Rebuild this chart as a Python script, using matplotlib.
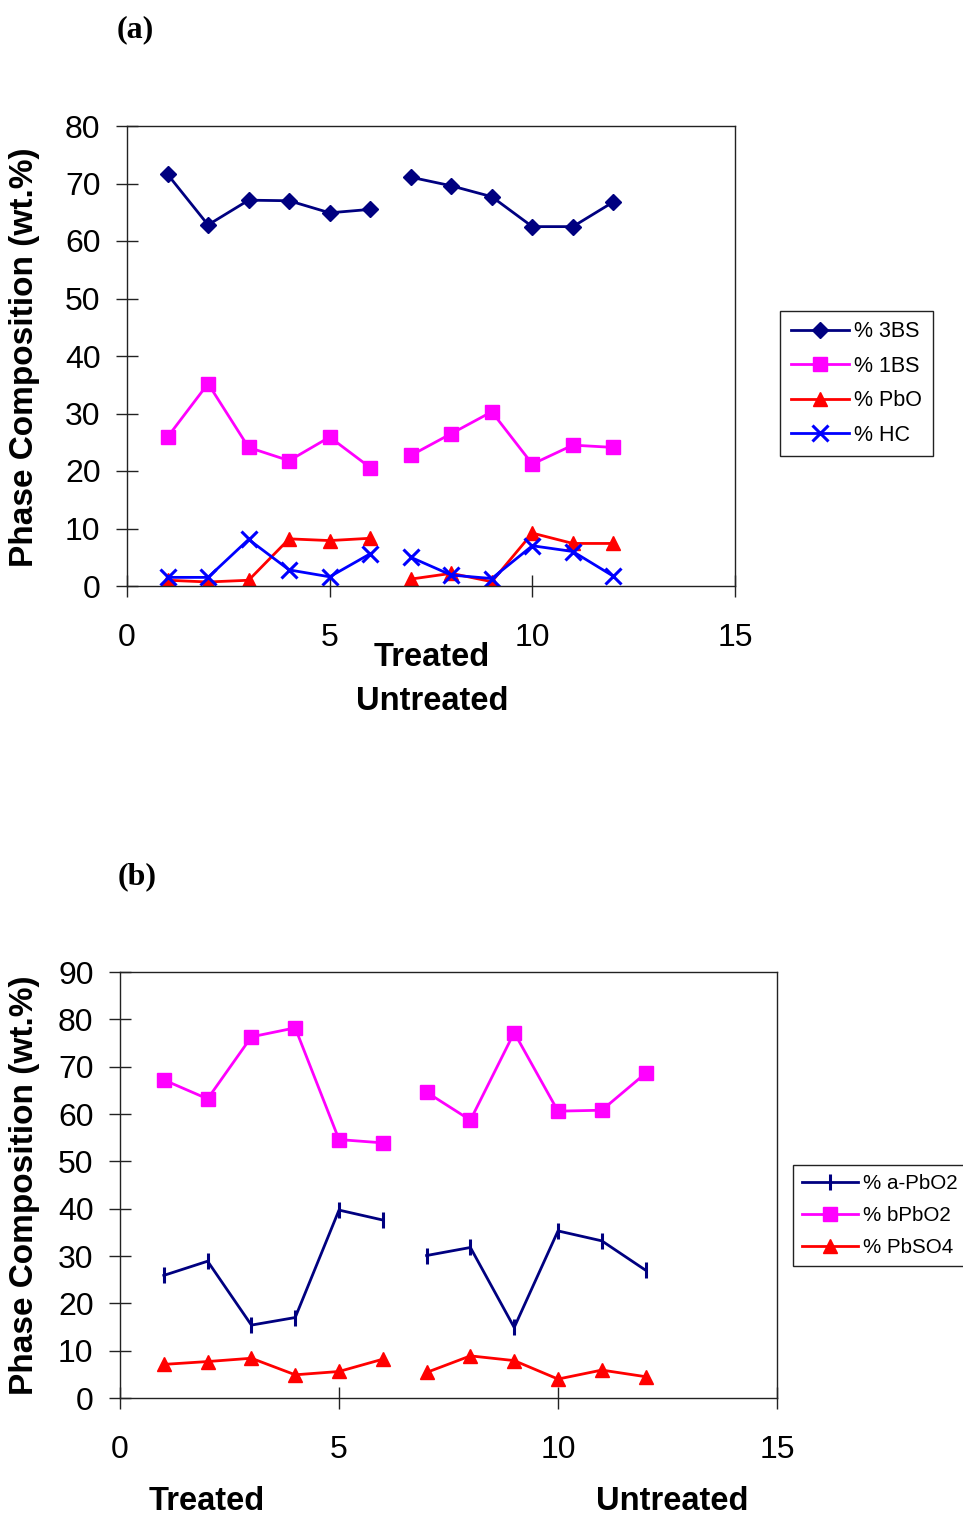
import matplotlib
matplotlib.use("Agg")
import matplotlib.pyplot as plt
import numpy as np

plt.rcParams['font.family'] = ['Liberation Sans', 'DejaVu Sans']

# ---- data (a) ----
samples = [1, 2, 3, 4, 5, 6, 7, 8, 9, 10, 11, 12]
bs3 = [71.6, 62.8, 67.1, 67.0, 64.9, 65.5, 71.1, 69.6, 67.7, 62.5, 62.5, 66.8]
bs1 = [25.9, 35.2, 24.1, 21.8, 25.9, 20.6, 22.7, 26.5, 30.3, 21.2, 24.5, 24.1]
pbo = [1.0, 0.7, 1.0, 8.2, 7.9, 8.3, 1.2, 2.2, 0.75, 9.2, 7.4, 7.4]
hc = [1.5, 1.5, 8.1, 2.8, 1.6, 5.6, 5.0, 1.9, 1.3, 7.0, 6.0, 1.7]

# ---- data (b) ----
a_pbo2 = [25.9, 28.9, 15.4, 17.0, 39.7, 37.6, 30.1, 31.8, 14.9, 35.3, 33.2, 27.0]
b_pbo2 = [67.2, 63.2, 76.3, 78.2, 54.6, 53.9, 64.6, 58.7, 77.2, 60.6, 60.8, 68.6]
pbso4 = [7.1, 7.7, 8.4, 4.9, 5.6, 8.2, 5.4, 8.9, 7.9, 4.0, 5.9, 4.5]

labels_a = ['% 3BS', '% 1BS', '% PbO', '% HC']
labels_b = ['% a-PbO2', '% bPbO2', '% PbSO4']
xticks = [0, 5, 10, 15]
yticks_a = [0, 10, 20, 30, 40, 50, 60, 70, 80]
yticks_b = [0, 10, 20, 30, 40, 50, 60, 70, 80, 90]

W, H = 963, 1517
fig = plt.figure(figsize=(W / 100, H / 100), dpi=100)


def fx(px):
    return px / W


def fy(py):
    return 1 - py / H


def plot_series(ax, x, y, label, **kw):
    x = np.asarray(x)
    y = np.asarray(y)
    line, = ax.plot(x[:6], y[:6], label=label, **kw)
    ax.plot(x[6:], y[6:], **kw)
    return line


def style_axes(ax, yt, ymax):
    ax.set_xlim(0, 15)
    ax.set_ylim(0, ymax)
    ax.set_xticks(xticks)
    ax.set_yticks(yt)
    for s in ax.spines.values():
        s.set_linewidth(1.0)
        s.set_color('#222222')
    ax.tick_params(axis='both', direction='inout', length=16, width=1.0,
                   color='#222222', labelsize=23)
    ax.tick_params(axis='x', pad=19)
    ax.tick_params(axis='y', pad=11)


# ---------- (a) ----------
ax1 = fig.add_axes([fx(127), fy(586), fx(735) - fx(127), (586 - 126) / H])
lw = 2.0
h1 = [
    plot_series(ax1, samples, bs3, labels_a[0], color='#000080', marker='D',
                markersize=8, lw=lw),
    plot_series(ax1, samples, bs1, labels_a[1], color='#FF00FF', marker='s',
                markersize=10, lw=lw),
    plot_series(ax1, samples, pbo, labels_a[2], color='#FF0000', marker='^',
                markersize=10, lw=lw),
    plot_series(ax1, samples, hc, labels_a[3], color='#0000FF', marker='x',
                markersize=11, markeredgewidth=2.2, lw=lw),
]
style_axes(ax1, yticks_a, 80)
leg1 = fig.legend(handles=h1, loc='center left',
                  bbox_to_anchor=(fx(780), fy(383.5)), fontsize=15.5,
                  frameon=True, fancybox=False, edgecolor='#222222',
                  framealpha=1, handlelength=2.7, borderpad=0.5,
                  labelspacing=0.62, handletextpad=0.25, borderaxespad=0)
leg1.get_frame().set_linewidth(1.0)

fig.text(fx(135), fy(30), '(a)', family='Liberation Serif', weight='bold',
         fontsize=23, ha='center', va='center')
fig.text(fx(25), fy(357), 'Phase Composition (wt.%)', rotation=90,
         weight='bold', fontsize=24, ha='center', va='center')
fig.text(fx(432), fy(666), 'Treated', weight='bold', fontsize=23.5,
         ha='center', va='baseline')
fig.text(fx(432), fy(710), 'Untreated', weight='bold', fontsize=23.5,
         ha='center', va='baseline')

# ---------- (b) ----------
ax2 = fig.add_axes([fx(120), fy(1398), fx(777) - fx(120), (1398 - 972) / H])
h2 = [
    plot_series(ax2, samples, a_pbo2, labels_b[0], color='#000080', marker='|',
                markersize=12, markeredgewidth=2.2, lw=lw),
    plot_series(ax2, samples, b_pbo2, labels_b[1], color='#FF00FF', marker='s',
                markersize=10, lw=lw),
    plot_series(ax2, samples, pbso4, labels_b[2], color='#FF0000', marker='^',
                markersize=10, lw=lw),
]
style_axes(ax2, yticks_b, 90)
leg2 = fig.legend(handles=h2, loc='center left',
                  bbox_to_anchor=(fx(793), fy(1215.5)), fontsize=14.8,
                  frameon=True, fancybox=False, edgecolor='#222222',
                  framealpha=1, handlelength=2.7, borderpad=0.45,
                  labelspacing=0.62, handletextpad=0.25, borderaxespad=0)
leg2.get_frame().set_linewidth(1.0)

fig.text(fx(137), fy(877), '(b)', family='Liberation Serif', weight='bold',
         fontsize=23, ha='center', va='center')
fig.text(fx(25), fy(1185), 'Phase Composition (wt.%)', rotation=90,
         weight='bold', fontsize=24, ha='center', va='center')
fig.text(fx(207), fy(1510), 'Treated', weight='bold', fontsize=23.5,
         ha='center', va='baseline')
fig.text(fx(672), fy(1510), 'Untreated', weight='bold', fontsize=23.5,
         ha='center', va='baseline')

fig.savefig('out.png', dpi=100, facecolor='white')
